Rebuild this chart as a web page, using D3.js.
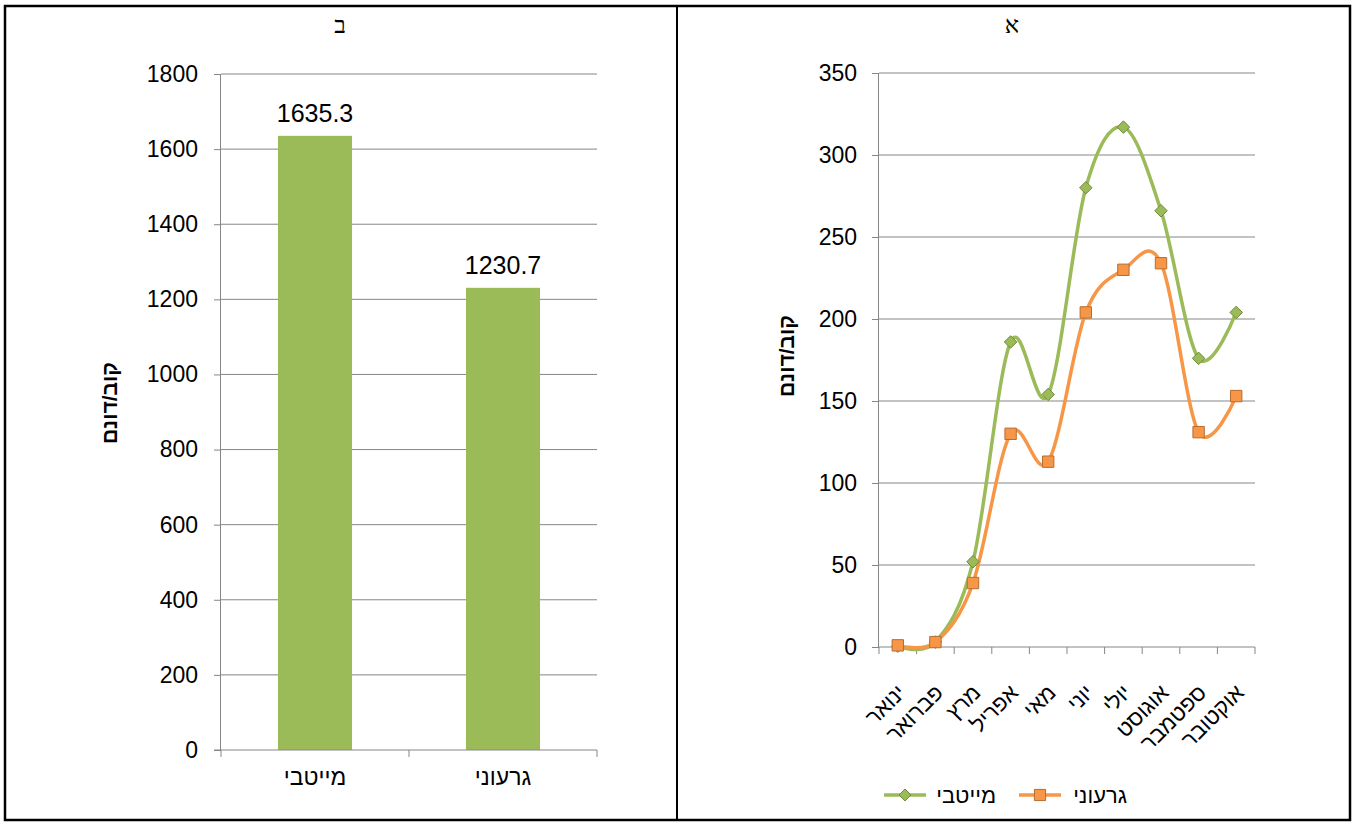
<!DOCTYPE html>
<html>
<head>
<meta charset="utf-8">
<script src="https://cdn.jsdelivr.net/npm/d3@7"></script>
<style>
  html, body { margin: 0; padding: 0; background: #fff; }
  svg { display: block; }
  text { font-family: "Liberation Sans", Arial, sans-serif; fill: #000; }
</style>
</head>
<body>
<svg id="chart" width="1355" height="823"></svg>
<script>
// ---- data ----
const barCategories = ["מייטבי", "גרעוני"];
const barValues = [1635.3, 1230.7];
const barTicks = [0, 200, 400, 600, 800, 1000, 1200, 1400, 1600, 1800];

const months = ["ינואר", "פברואר", "מרץ", "אפריל", "מאי", "יוני", "יולי", "אוגוסט", "ספטמבר", "אוקטובר"];
const optimalSeries = [0.5, 3, 52, 186, 154, 280, 317, 266, 176, 204];   // מייטבי
const deficitSeries = [1, 3, 39, 130, 113, 204, 230, 234, 131, 153];     // גרעוני
const lineTicks = [0, 50, 100, 150, 200, 250, 300, 350];

const unitLabel = "קוב/דונם";
const green = "#9BBB59", greenDark = "#71893F";
const orange = "#F79646", orangeDark = "#B66D31";
const axisGray = "#868686";
const tickFont = "23px";

const svg = d3.select("#chart");

// ---- table frame ----
svg.append("rect").attr("x", 5).attr("y", 6).attr("width", 1345).attr("height", 814)
  .attr("fill", "none").attr("stroke", "#000").attr("stroke-width", 2.5);
svg.append("line").attr("x1", 677).attr("x2", 677).attr("y1", 6).attr("y2", 820)
  .attr("stroke", "#000").attr("stroke-width", 2);

svg.append("text").attr("x", 340).attr("y", 33).attr("text-anchor", "middle")
  .style("font-family", "'Liberation Serif', 'DejaVu Serif', serif").style("font-size", "24px").text("ב");
svg.append("text").attr("x", 1012).attr("y", 33).attr("text-anchor", "middle")
  .style("font-family", "'Liberation Serif', 'DejaVu Serif', serif").style("font-size", "24px").text("א");

// ---- bar chart (ב) ----
{
  const left = 221, right = 597, top = 74, bottom = 750;
  const x = d3.scaleBand().domain(barCategories).range([left, right]).paddingInner(0.606).paddingOuter(0.303);
  const y = d3.scaleLinear().domain([0, 1800]).range([bottom, top]);
  const g = svg.append("g");

  g.selectAll("line.grid").data(barTicks.filter(d => d > 0)).join("line")
    .attr("x1", left).attr("x2", right).attr("y1", d => y(d)).attr("y2", d => y(d))
    .attr("stroke", axisGray).attr("stroke-width", 1);

  g.selectAll("rect.bar").data(barValues).join("rect")
    .attr("x", (d, i) => x(barCategories[i])).attr("width", x.bandwidth())
    .attr("y", d => y(d)).attr("height", d => y(0) - y(d)).attr("fill", green);

  g.selectAll("text.val").data(barValues).join("text")
    .attr("x", (d, i) => x(barCategories[i]) + x.bandwidth() / 2).attr("y", d => y(d) - 14)
    .attr("text-anchor", "middle").style("font-size", "25px").text(d => d.toFixed(1));

  const yAxis = d3.axisLeft(y).tickValues(barTicks).tickSize(7).tickPadding(16).tickFormat(d3.format("d"));
  const ya = g.append("g").attr("transform", `translate(${left},0)`).call(yAxis);
  ya.select(".domain").attr("stroke", axisGray).attr("d", `M-0.5,${top}V${bottom}`);
  ya.selectAll(".tick line").attr("stroke", axisGray);
  ya.selectAll(".tick text").style("font-size", tickFont).style("font-family", "'Liberation Sans', Arial, sans-serif").attr("fill", "#000");

  // category axis with boundary ticks
  const xa = g.append("g");
  xa.append("line").attr("x1", left - 7).attr("x2", right).attr("y1", bottom).attr("y2", bottom).attr("stroke", axisGray);
  const bounds = [left, (left + right) / 2, right];
  xa.selectAll("line.t").data(bounds).join("line")
    .attr("x1", d => d).attr("x2", d => d).attr("y1", bottom).attr("y2", bottom + 7).attr("stroke", axisGray);
  xa.selectAll("text.c").data(barCategories).join("text")
    .attr("x", d => x(d) + x.bandwidth() / 2).attr("y", 785).attr("text-anchor", "middle")
    .style("font-size", "23px").text(d => d);

  g.append("text").attr("transform", `translate(117,403) rotate(-90)`).attr("text-anchor", "middle")
    .style("font-size", "21px").style("font-weight", "bold").text(unitLabel);
}

// ---- monthly line chart (א) ----
{
  const left = 879, right = 1255, top = 73, bottom = 647;
  const x = d3.scaleBand().domain(months).range([left, right]);
  const y = d3.scaleLinear().domain([0, 350]).range([bottom, top]);
  const cx = m => x(m) + x.bandwidth() / 2;
  const g = svg.append("g");

  g.selectAll("line.grid").data(lineTicks.filter(d => d > 0)).join("line")
    .attr("x1", left).attr("x2", right).attr("y1", d => y(d)).attr("y2", d => y(d))
    .attr("stroke", axisGray).attr("stroke-width", 1);

  const yAxis = d3.axisLeft(y).tickValues(lineTicks).tickSize(7).tickPadding(15);
  const ya = g.append("g").attr("transform", `translate(${left},0)`).call(yAxis);
  ya.select(".domain").attr("stroke", axisGray).attr("d", `M-0.5,${top}V${bottom}`);
  ya.selectAll(".tick line").attr("stroke", axisGray);
  ya.selectAll(".tick text").style("font-size", tickFont).style("font-family", "'Liberation Sans', Arial, sans-serif").attr("fill", "#000");

  const xa = g.append("g");
  xa.append("line").attr("x1", left).attr("x2", right).attr("y1", bottom).attr("y2", bottom).attr("stroke", axisGray);
  const bounds = months.map(m => x(m)).concat([right]);
  xa.selectAll("line.t").data(bounds).join("line")
    .attr("x1", d => d).attr("x2", d => d).attr("y1", bottom).attr("y2", bottom + 7).attr("stroke", axisGray);
  xa.selectAll("text.m").data(months).join("text")
    .attr("transform", d => `translate(${cx(d) + 9},${bottom + 47}) rotate(-45)`)
    .attr("text-anchor", "end").style("font-size", "22px").text(d => d);

  const line = d3.line().x((d, i) => cx(months[i])).y(d => y(d)).curve(d3.curveCatmullRom.alpha(0));

  const series = [
    { name: "מייטבי", values: optimalSeries, color: green, dark: greenDark, shape: "diamond" },
    { name: "גרעוני", values: deficitSeries, color: orange, dark: orangeDark, shape: "square" }
  ];

  series.forEach(s => {
    g.append("path").attr("d", line(s.values)).attr("fill", "none")
      .attr("stroke", s.color).attr("stroke-width", 3.5).attr("stroke-linejoin", "round");
  });
  series.forEach(s => {
    g.selectAll(null).data(s.values).join("path")
      .attr("transform", (d, i) => `translate(${cx(months[i])},${y(d)})`)
      .attr("d", s.shape === "diamond"
        ? d3.symbol().type(d3.symbolDiamond2).size(100)
        : d3.symbol().type(d3.symbolSquare2).size(165))
      .attr("fill", s.color).attr("stroke", s.dark).attr("stroke-width", 1);
  });

  g.append("text").attr("transform", `translate(794,356) rotate(-90)`).attr("text-anchor", "middle")
    .style("font-size", "21px").style("font-weight", "bold").text(unitLabel);

  // legend
  const leg = g.append("g");
  const items = [
    { s: series[0], lx: 884, tx: 996 },
    { s: series[1], lx: 1019, tx: 1127 }
  ];
  items.forEach(({ s, lx, tx }) => {
    leg.append("line").attr("x1", lx).attr("x2", lx + 42).attr("y1", 795).attr("y2", 795)
      .attr("stroke", s.color).attr("stroke-width", 3.5);
    leg.append("path").attr("transform", `translate(${lx + 21},795)`)
      .attr("d", s.shape === "diamond"
        ? d3.symbol().type(d3.symbolDiamond2).size(90)
        : d3.symbol().type(d3.symbolSquare2).size(160))
      .attr("fill", s.color).attr("stroke", s.dark).attr("stroke-width", 1);
    leg.append("text").attr("x", tx).attr("y", 803).attr("text-anchor", "end")
      .style("font-size", "22px").text(s.name);
  });
}
</script>
</body>
</html>
